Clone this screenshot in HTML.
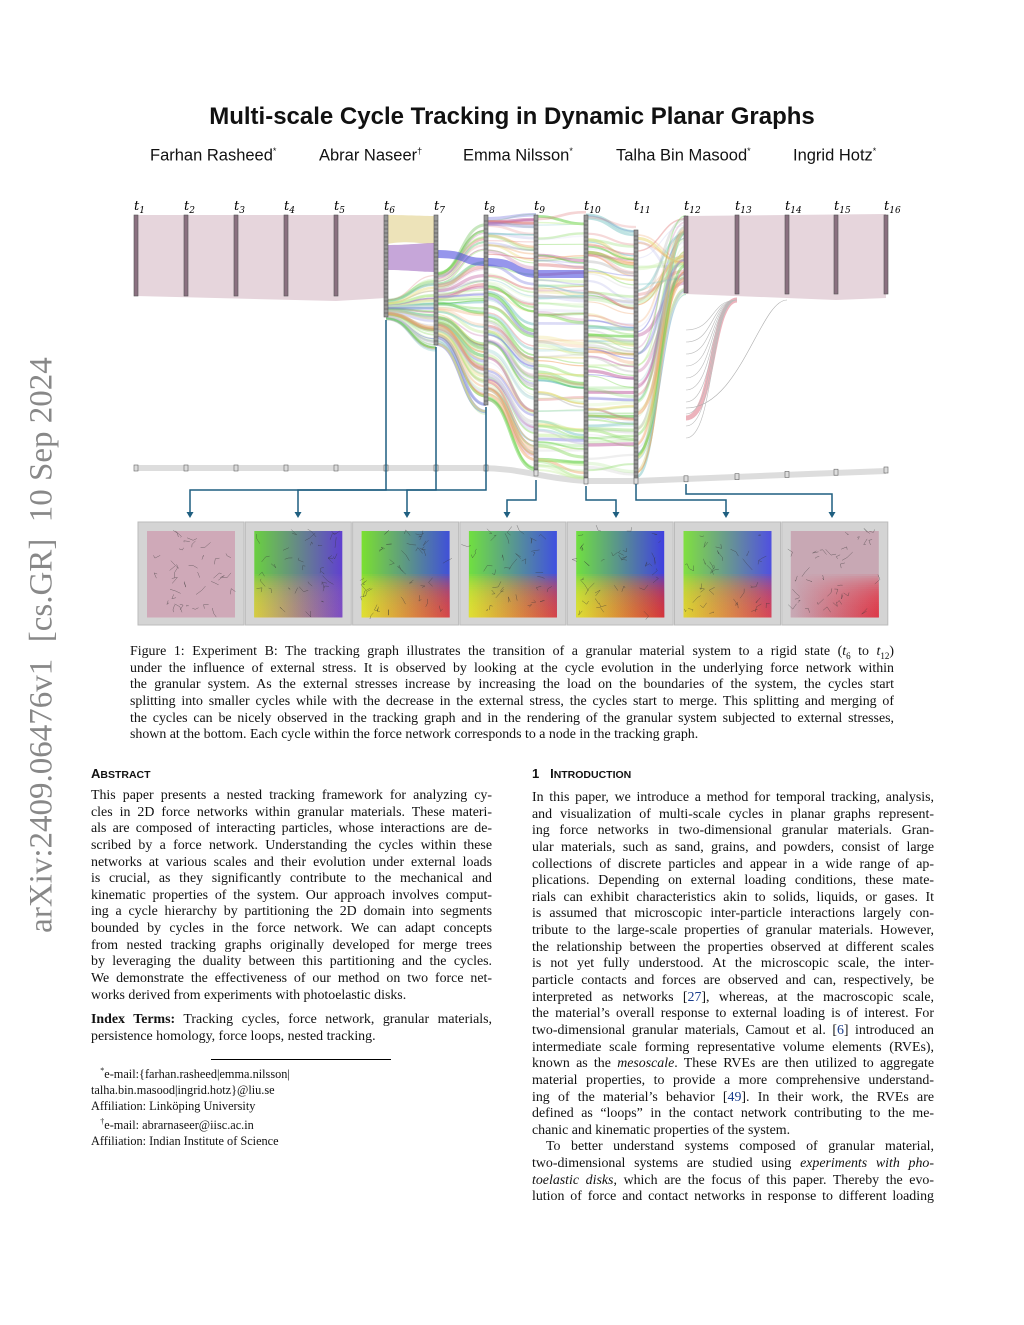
<!DOCTYPE html>
<html><head><meta charset="utf-8">
<style>
body{margin:0;background:#fff;}
#pg{position:relative;width:1024px;height:1325px;overflow:hidden;font-family:"Liberation Serif",serif;color:#111;}
.t{position:absolute;white-space:nowrap;}
.col{position:absolute;font-size:13.9px;line-height:16.65px;}
.col div{text-align:justify;text-align-last:justify;white-space:nowrap;height:16.65px;}
.col div.l{text-align-last:left;}
</style></head><body><div id="pg">
<div class="t" style="left:0;width:1024px;text-align:center;top:103px;font:bold 24px 'Liberation Sans',sans-serif;">Multi-scale Cycle Tracking in Dynamic Planar Graphs</div>
<div class="t" style="left:150px;top:146px;font:16.5px 'Liberation Sans',sans-serif;">Farhan Rasheed<sup style="font-size:9px">*</sup></div>
<div class="t" style="left:319px;top:146px;font:16.5px 'Liberation Sans',sans-serif;">Abrar Naseer<sup style="font-size:9px">†</sup></div>
<div class="t" style="left:463px;top:146px;font:16.5px 'Liberation Sans',sans-serif;">Emma Nilsson<sup style="font-size:9px">*</sup></div>
<div class="t" style="left:616px;top:146px;font:16.5px 'Liberation Sans',sans-serif;">Talha Bin Masood<sup style="font-size:9px">*</sup></div>
<div class="t" style="left:793px;top:146px;font:16.5px 'Liberation Sans',sans-serif;">Ingrid Hotz<sup style="font-size:9px">*</sup></div>
<div class="t" style="left:42px;top:645px;transform:translate(-50%,-50%) rotate(-90deg);font-size:33px;color:#888;">arXiv:2409.06476v1&nbsp; [cs.GR]&nbsp; 10 Sep 2024</div>

<svg id="fig" style="position:absolute;left:0;top:0" width="1024" height="640"></svg>

<div class="col" style="left:130px;top:644px;width:764px;">
<div>Figure 1: Experiment B: The tracking graph illustrates the transition of a granular material system to a rigid state (<i>t</i><sub style="font-size:9px;line-height:0">6</sub> to <i>t</i><sub style="font-size:9px;line-height:0">12</sub>)</div>
<div>under the influence of external stress. It is observed by looking at the cycle evolution in the underlying force network within</div>
<div>the granular system. As the external stresses increase by increasing the load on the boundaries of the system, the cycles start</div>
<div>splitting into smaller cycles while with the decrease in the external stress, the cycles start to merge. This splitting and merging of</div>
<div>the cycles can be nicely observed in the tracking graph and in the rendering of the granular system subjected to external stresses,</div>
<div class="l">shown at the bottom. Each cycle within the force network corresponds to a node in the tracking graph.</div>
</div>

<div class="t" style="left:91px;top:766px;font:bold 13px 'Liberation Sans',sans-serif;">A<span style="font-size:10.5px">BSTRACT</span></div>
<div class="col" style="left:91px;top:788px;width:401px;">
<div>This paper presents a nested tracking framework for analyzing cy-</div>
<div>cles in 2D force networks within granular materials. These materi-</div>
<div>als are composed of interacting particles, whose interactions are de-</div>
<div>scribed by a force network. Understanding the cycles within these</div>
<div>networks at various scales and their evolution under external loads</div>
<div>is crucial, as they significantly contribute to the mechanical and</div>
<div>kinematic properties of the system. Our approach involves comput-</div>
<div>ing a cycle hierarchy by partitioning the 2D domain into segments</div>
<div>bounded by cycles in the force network. We can adapt concepts</div>
<div>from nested tracking graphs originally developed for merge trees</div>
<div>by leveraging the duality between this partitioning and the cycles.</div>
<div>We demonstrate the effectiveness of our method on two force net-</div>
<div class="l">works derived from experiments with photoelastic disks.</div>
<div style="margin-top:8px"><b>Index Terms:</b> Tracking cycles, force network, granular materials,</div>
<div class="l">persistence homology, force loops, nested tracking.</div>
</div>
<div style="position:absolute;left:211px;top:1059px;width:180px;border-top:1px solid #000"></div>
<div class="t" style="left:91px;top:1063px;font-size:12.3px;line-height:16px;">&nbsp;&nbsp;&nbsp;<sup style="font-size:8px">*</sup>e-mail:{farhan.rasheed|emma.nilsson|<br>talha.bin.masood|ingrid.hotz}@liu.se<br>Affiliation: Linköping University<br>&nbsp;&nbsp;&nbsp;<sup style="font-size:8px">†</sup>e-mail: abrarnaseer@iisc.ac.in<br>Affiliation: Indian Institute of Science</div>

<div class="t" style="left:532px;top:766px;font:bold 13px 'Liberation Sans',sans-serif;">1&nbsp;&nbsp;&nbsp;I<span style="font-size:10.5px">NTRODUCTION</span></div>
<div class="col" style="left:532px;top:790px;width:402px;">
<div>In this paper, we introduce a method for temporal tracking, analysis,</div>
<div>and visualization of multi-scale cycles in planar graphs represent-</div>
<div>ing force networks in two-dimensional granular materials. Gran-</div>
<div>ular materials, such as sand, grains, and powders, consist of large</div>
<div>collections of discrete particles and appear in a wide range of ap-</div>
<div>plications. Depending on external loading conditions, these mate-</div>
<div>rials can exhibit characteristics akin to solids, liquids, or gases. It</div>
<div>is assumed that microscopic inter-particle interactions largely con-</div>
<div>tribute to the large-scale properties of granular materials. However,</div>
<div>the relationship between the properties observed at different scales</div>
<div>is not yet fully understood. At the microscopic scale, the inter-</div>
<div>particle contacts and forces are observed and can, respectively, be</div>
<div>interpreted as networks [<span style="color:#1a3c8c">27</span>], whereas, at the macroscopic scale,</div>
<div>the material’s overall response to external loading is of interest. For</div>
<div>two-dimensional granular materials, Camout et al. [<span style="color:#1a3c8c">6</span>] introduced an</div>
<div>intermediate scale forming representative volume elements (RVEs),</div>
<div>known as the <i>mesoscale</i>. These RVEs are then utilized to aggregate</div>
<div>material properties, to provide a more comprehensive understand-</div>
<div>ing of the material’s behavior [<span style="color:#1a3c8c">49</span>]. In their work, the RVEs are</div>
<div>defined as “loops” in the contact network contributing to the me-</div>
<div class="l">chanic and kinematic properties of the system.</div>
<div style="padding-left:14px">To better understand systems composed of granular material,</div>
<div>two-dimensional systems are studied using <i>experiments with pho-</i></div>
<div><i>toelastic disks</i>, which are the focus of this paper. Thereby the evo-</div>
<div>lution of force and contact networks in response to different loading</div>
</div>

<script>
(function(){
var s=document.getElementById('fig'),h='';
var X=[136,186,236,286,336,386,436,486,536,586,636,686,737,787,836,886];
var sd=7;function r(){sd=(sd*16807)%2147483647;return sd/2147483647;}
h+='<path d="M136 468 L480 468 C520 468 540 478 586 481 L636 481 C700 479 800 474 886 471" stroke="#ddd" stroke-width="6" fill="none"/>';
h+='<path d="M136 215 L386 215 L386 298 L336 301 L136 296 Z" fill="#e6d5dc"/>';
h+='<path d="M686 216 L886 214 L886 298 L836 300 L686 294 Z" fill="#e6d5dc"/>';
h+='<path d="M386 215 C410 215 420 216 436 216 L436 244 C420 244 410 240 386 244Z" fill="#e8dca8" opacity=".8"/>';
h+='<path d="M386 245 C410 245 420 243 436 243 L436 272 C420 272 410 270 386 270Z" fill="#b890d0" opacity=".8"/>';
var cols=['#9be07a','#9be07a','#c8f0a0','#e8d870','#e07878','#8080e0','#c060a0','#70c0c0','#f0a060','#60d040','#c0c0c0','#d0d0f0'];
function yr(i){var tops={5:[300,320],6:[272,345],7:[215,405],8:[215,470],9:[215,478],10:[230,478],11:[215,300]};return tops[i];}
for(var i=5;i<11;i++){
 var a=yr(i),n=i==5||i==10?55:90;
 for(var k=0;k<n;k++){
  var f=r(),y1=a[0]+f*(a[1]-a[0]),y2;
  if(i==5){y2=275+f*70+r()*10;}
  else if(i==6){y2=215+f*190+r()*20;}
  else if(i==7){y2=215+f*255+r()*20-10;}
  else if(i==8){y2=215+f*263+r()*16-8;}
  else if(i==9){y2=230+f*248+r()*16-8;}
  else y2=215+r()*80;
  y2=Math.min(478,y2);
  var x1=X[i],x2=X[i+1],c=cols[Math.floor(r()*cols.length)];
  h+='<path d="M'+x1+' '+y1.toFixed(1)+' C'+(x1+25)+' '+y1.toFixed(1)+' '+(x2-25)+' '+y2.toFixed(1)+' '+x2+' '+y2.toFixed(1)+'" stroke="'+c+'" stroke-width="'+(1+r()*2.5).toFixed(1)+'" fill="none" opacity="'+(0.2+r()*0.35).toFixed(2)+'"/>';
 }}
h+='<path d="M436 250 C470 250 460 258 486 258 C520 258 510 268 536 270 L586 270 L586 278 L536 278 C510 276 520 266 486 266 C460 266 470 258 436 258Z" fill="#5050e0" opacity=".6"/>';
h+='<path d="M686 418 C715 418 710 300 737 300" stroke="#e08090" stroke-width="5" fill="none" opacity=".6"/>';
h+='<path d="M686 408 C740 408 760 300 787 300" stroke="#aaa" stroke-width="0.6" fill="none"/>';
for(var k=0;k<10;k++){var y=330+k*12;h+='<path d="M686 '+y+' C715 '+y+' 710 300 737 300" stroke="#bbb" stroke-width=".6" fill="none"/>';}
for(var i=0;i<16;i++){
 var x=X[i],t,b;
 if(i<5){t=215;b=296;}else if(i==5){t=215;b=317;}else if(i==6){t=215;b=345;}else if(i==7){t=215;b=405;}
 else if(i==8){t=215;b=472;}else if(i==9){t=215;b=478;}else if(i==10){t=230;b=478;}else if(i==11){t=216;b=293;}else{t=215;b=294;}
 h+='<rect x="'+(x-2)+'" y="'+t+'" width="4" height="'+(b-t)+'" fill="'+(i>=5&&i<=10?'#999':'#8a7080')+'" stroke="#555" stroke-width=".6"/>';
 if(i>=5&&i<=10) for(var y=t+6;y<b;y+=4)h+='<line x1="'+(x-2)+'" x2="'+(x+2)+'" y1="'+y+'" y2="'+y+'" stroke="#555" stroke-width=".7"/>';
 var by=i<8?468:(i==8?473:(i<11?481:(481-(i-10)*2.2)));
 h+='<rect x="'+(x-2)+'" y="'+(by-3)+'" width="4" height="6" fill="#ddd" stroke="#666" stroke-width=".6"/>';
 h+='<text x="'+(x-2)+'" y="210" font-family="DejaVu Serif,serif" font-style="italic" font-size="13">t<tspan font-size="9" dy="3">'+(i+1)+'</tspan></text>';
}
var gs=[['#cfa9b8','#cfa9b8','#cfa9b8','#cfa9b8'],['#6ad040','#6040d0','#e0c840','#8050c0'],['#7ae030','#4050d8','#e8e030','#e04040'],['#70e040','#4050e0','#e8e030','#e04040'],['#70e040','#4040e0','#e8e030','#e03030'],['#80e040','#5050e0','#e8d030','#e04050'],['#c8a8b4','#c8a8b4','#c8a8b4','#e03040']];
h+='<defs>';
for(var j=0;j<7;j++){
 h+='<linearGradient id="g'+j+'a" x1="0" y1="0" x2="1" y2="0"><stop offset="0" stop-color="'+gs[j][0]+'"/><stop offset="1" stop-color="'+gs[j][1]+'"/></linearGradient>';
 h+='<linearGradient id="g'+j+'b" x1="0" y1="0" x2="1" y2="0"><stop offset="0" stop-color="'+gs[j][2]+'"/><stop offset="1" stop-color="'+gs[j][3]+'"/></linearGradient>';
}
h+='</defs>';
for(var j=0;j<7;j++){
 var x0=138+j*107.3,ix=x0+9,iy=531;
 h+='<rect x="'+x0+'" y="522" width="106" height="103" fill="#d4d4d4" stroke="#bbb"/>';
 h+='<rect x="'+ix+'" y="'+iy+'" width="88" height="86" fill="url(#g'+j+'a)"/>';
 for(var q=0;q<20;q++){var yy=iy+43+q*2.15;h+='<rect x="'+ix+'" y="'+yy.toFixed(1)+'" width="88" height="'+(86-43-q*2.15+0.5).toFixed(1)+'" fill="url(#g'+j+'b)" opacity="0.12"/>';}
 for(var q=0;q<35;q++){var px=ix+r()*84,py=iy+r()*82;h+='<path d="M'+px.toFixed(1)+' '+py.toFixed(1)+' l'+(r()*12-6).toFixed(1)+' '+(r()*12-6).toFixed(1)+' l'+(r()*12-6).toFixed(1)+' '+(r()*12-6).toFixed(1)+'" stroke="#333" stroke-width=".5" fill="none" opacity=".6"/>';}
}
var C=[[386,320,490,190],[436,347,490,298],[486,407,490,407],[536,480,500,507],[586,486,500,616],[636,484,500,726],[686,484,494,832]];
C.forEach(function(c){var x=c[0],y=c[1],hy=c[2],tx=c[3];
 h+='<path d="M'+x+' '+y+' L'+x+' '+hy+' L'+tx+' '+hy+' L'+tx+' 514" stroke="#1f5f80" stroke-width="1.5" fill="none"/>';
 h+='<path d="M'+(tx-3.5)+' 512 L'+(tx+3.5)+' 512 L'+tx+' 518Z" fill="#1f5f80"/>';});
s.innerHTML=h;
})();
</script>
</div></body></html>
